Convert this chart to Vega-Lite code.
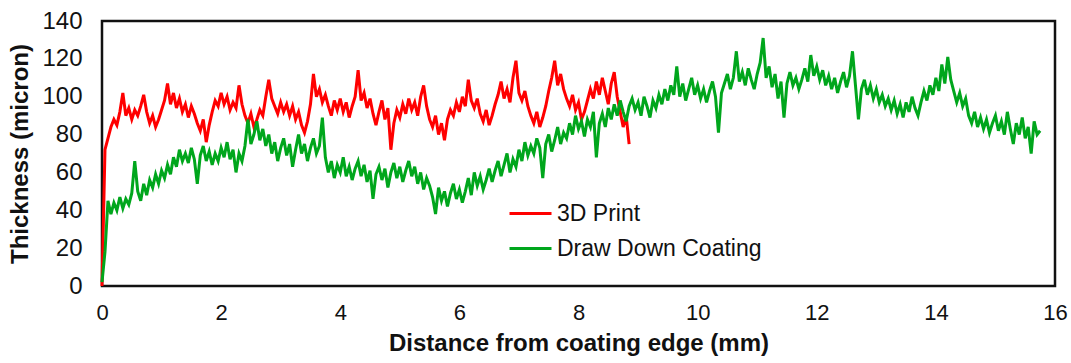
{
  "$schema": "https://vega.github.io/schema/vega-lite/v6.json",
  "width": 953,
  "height": 265,
  "autosize": {"type": "none"},
  "padding": {"left": 102, "top": 21, "right": 16, "bottom": 77},
  "background": "white",
  "config": {
    "view": {"stroke": "#111", "strokeWidth": 2.5},
    "font": "Liberation Sans"
  },
  "data": {"values": [
{"x":0,"y":0,"s":"3D Print"},{"x":0.05,"y":72,"s":"3D Print"},{"x":0.1,"y":78,"s":"3D Print"},{"x":0.15,"y":84,"s":"3D Print"},{"x":0.2,"y":88,"s":"3D Print"},{"x":0.25,"y":85,"s":"3D Print"},{"x":0.3,"y":92,"s":"3D Print"},{"x":0.35,"y":102,"s":"3D Print"},{"x":0.4,"y":90,"s":"3D Print"},{"x":0.45,"y":94,"s":"3D Print"},
{"x":0.5,"y":88,"s":"3D Print"},{"x":0.55,"y":93,"s":"3D Print"},{"x":0.6,"y":90,"s":"3D Print"},{"x":0.65,"y":95,"s":"3D Print"},{"x":0.7,"y":101,"s":"3D Print"},{"x":0.75,"y":92,"s":"3D Print"},{"x":0.8,"y":86,"s":"3D Print"},{"x":0.85,"y":90,"s":"3D Print"},{"x":0.9,"y":84,"s":"3D Print"},{"x":0.95,"y":88,"s":"3D Print"},
{"x":1,"y":93,"s":"3D Print"},{"x":1.05,"y":98,"s":"3D Print"},{"x":1.1,"y":107,"s":"3D Print"},{"x":1.15,"y":96,"s":"3D Print"},{"x":1.2,"y":102,"s":"3D Print"},{"x":1.25,"y":94,"s":"3D Print"},{"x":1.3,"y":99,"s":"3D Print"},{"x":1.35,"y":92,"s":"3D Print"},{"x":1.4,"y":96,"s":"3D Print"},{"x":1.45,"y":89,"s":"3D Print"},
{"x":1.5,"y":95,"s":"3D Print"},{"x":1.55,"y":91,"s":"3D Print"},{"x":1.6,"y":86,"s":"3D Print"},{"x":1.65,"y":82,"s":"3D Print"},{"x":1.7,"y":88,"s":"3D Print"},{"x":1.75,"y":76,"s":"3D Print"},{"x":1.8,"y":85,"s":"3D Print"},{"x":1.85,"y":92,"s":"3D Print"},{"x":1.9,"y":98,"s":"3D Print"},{"x":1.95,"y":95,"s":"3D Print"},
{"x":2,"y":102,"s":"3D Print"},{"x":2.05,"y":96,"s":"3D Print"},{"x":2.1,"y":100,"s":"3D Print"},{"x":2.15,"y":93,"s":"3D Print"},{"x":2.2,"y":97,"s":"3D Print"},{"x":2.25,"y":94,"s":"3D Print"},{"x":2.3,"y":106,"s":"3D Print"},{"x":2.35,"y":96,"s":"3D Print"},{"x":2.4,"y":90,"s":"3D Print"},{"x":2.45,"y":86,"s":"3D Print"},
{"x":2.5,"y":91,"s":"3D Print"},{"x":2.55,"y":84,"s":"3D Print"},{"x":2.6,"y":88,"s":"3D Print"},{"x":2.65,"y":93,"s":"3D Print"},{"x":2.7,"y":90,"s":"3D Print"},{"x":2.75,"y":100,"s":"3D Print"},{"x":2.8,"y":109,"s":"3D Print"},{"x":2.85,"y":99,"s":"3D Print"},{"x":2.9,"y":95,"s":"3D Print"},{"x":2.95,"y":91,"s":"3D Print"},
{"x":3,"y":97,"s":"3D Print"},{"x":3.05,"y":92,"s":"3D Print"},{"x":3.1,"y":96,"s":"3D Print"},{"x":3.15,"y":90,"s":"3D Print"},{"x":3.2,"y":95,"s":"3D Print"},{"x":3.25,"y":88,"s":"3D Print"},{"x":3.3,"y":92,"s":"3D Print"},{"x":3.35,"y":85,"s":"3D Print"},{"x":3.4,"y":81,"s":"3D Print"},{"x":3.45,"y":87,"s":"3D Print"},
{"x":3.5,"y":96,"s":"3D Print"},{"x":3.55,"y":112,"s":"3D Print"},{"x":3.6,"y":100,"s":"3D Print"},{"x":3.65,"y":104,"s":"3D Print"},{"x":3.7,"y":97,"s":"3D Print"},{"x":3.75,"y":101,"s":"3D Print"},{"x":3.8,"y":95,"s":"3D Print"},{"x":3.85,"y":90,"s":"3D Print"},{"x":3.9,"y":98,"s":"3D Print"},{"x":3.95,"y":93,"s":"3D Print"},
{"x":4,"y":99,"s":"3D Print"},{"x":4.05,"y":92,"s":"3D Print"},{"x":4.1,"y":97,"s":"3D Print"},{"x":4.15,"y":89,"s":"3D Print"},{"x":4.2,"y":95,"s":"3D Print"},{"x":4.25,"y":100,"s":"3D Print"},{"x":4.3,"y":114,"s":"3D Print"},{"x":4.35,"y":98,"s":"3D Print"},{"x":4.4,"y":102,"s":"3D Print"},{"x":4.45,"y":94,"s":"3D Print"},
{"x":4.5,"y":99,"s":"3D Print"},{"x":4.55,"y":91,"s":"3D Print"},{"x":4.6,"y":85,"s":"3D Print"},{"x":4.65,"y":92,"s":"3D Print"},{"x":4.7,"y":98,"s":"3D Print"},{"x":4.75,"y":88,"s":"3D Print"},{"x":4.8,"y":94,"s":"3D Print"},{"x":4.85,"y":72,"s":"3D Print"},{"x":4.9,"y":86,"s":"3D Print"},{"x":4.95,"y":93,"s":"3D Print"},
{"x":5,"y":89,"s":"3D Print"},{"x":5.05,"y":96,"s":"3D Print"},{"x":5.1,"y":91,"s":"3D Print"},{"x":5.15,"y":99,"s":"3D Print"},{"x":5.2,"y":93,"s":"3D Print"},{"x":5.25,"y":97,"s":"3D Print"},{"x":5.3,"y":90,"s":"3D Print"},{"x":5.35,"y":100,"s":"3D Print"},{"x":5.4,"y":106,"s":"3D Print"},{"x":5.45,"y":95,"s":"3D Print"},
{"x":5.5,"y":88,"s":"3D Print"},{"x":5.55,"y":84,"s":"3D Print"},{"x":5.6,"y":90,"s":"3D Print"},{"x":5.65,"y":80,"s":"3D Print"},{"x":5.7,"y":86,"s":"3D Print"},{"x":5.75,"y":77,"s":"3D Print"},{"x":5.8,"y":88,"s":"3D Print"},{"x":5.85,"y":93,"s":"3D Print"},{"x":5.9,"y":90,"s":"3D Print"},{"x":5.95,"y":97,"s":"3D Print"},
{"x":6,"y":92,"s":"3D Print"},{"x":6.05,"y":100,"s":"3D Print"},{"x":6.1,"y":95,"s":"3D Print"},{"x":6.15,"y":109,"s":"3D Print"},{"x":6.2,"y":98,"s":"3D Print"},{"x":6.25,"y":94,"s":"3D Print"},{"x":6.3,"y":99,"s":"3D Print"},{"x":6.35,"y":91,"s":"3D Print"},{"x":6.4,"y":87,"s":"3D Print"},{"x":6.45,"y":93,"s":"3D Print"},
{"x":6.5,"y":85,"s":"3D Print"},{"x":6.55,"y":90,"s":"3D Print"},{"x":6.6,"y":96,"s":"3D Print"},{"x":6.65,"y":101,"s":"3D Print"},{"x":6.7,"y":108,"s":"3D Print"},{"x":6.75,"y":99,"s":"3D Print"},{"x":6.8,"y":104,"s":"3D Print"},{"x":6.85,"y":97,"s":"3D Print"},{"x":6.9,"y":110,"s":"3D Print"},{"x":6.95,"y":119,"s":"3D Print"},
{"x":7,"y":102,"s":"3D Print"},{"x":7.05,"y":98,"s":"3D Print"},{"x":7.1,"y":103,"s":"3D Print"},{"x":7.15,"y":95,"s":"3D Print"},{"x":7.2,"y":90,"s":"3D Print"},{"x":7.25,"y":86,"s":"3D Print"},{"x":7.3,"y":92,"s":"3D Print"},{"x":7.35,"y":84,"s":"3D Print"},{"x":7.4,"y":89,"s":"3D Print"},{"x":7.45,"y":95,"s":"3D Print"},
{"x":7.5,"y":103,"s":"3D Print"},{"x":7.55,"y":110,"s":"3D Print"},{"x":7.6,"y":119,"s":"3D Print"},{"x":7.65,"y":106,"s":"3D Print"},{"x":7.7,"y":112,"s":"3D Print"},{"x":7.75,"y":104,"s":"3D Print"},{"x":7.8,"y":99,"s":"3D Print"},{"x":7.85,"y":95,"s":"3D Print"},{"x":7.9,"y":101,"s":"3D Print"},{"x":7.95,"y":93,"s":"3D Print"},
{"x":8,"y":97,"s":"3D Print"},{"x":8.05,"y":88,"s":"3D Print"},{"x":8.1,"y":92,"s":"3D Print"},{"x":8.15,"y":98,"s":"3D Print"},{"x":8.2,"y":104,"s":"3D Print"},{"x":8.25,"y":99,"s":"3D Print"},{"x":8.3,"y":108,"s":"3D Print"},{"x":8.35,"y":101,"s":"3D Print"},{"x":8.4,"y":110,"s":"3D Print"},{"x":8.45,"y":103,"s":"3D Print"},
{"x":8.5,"y":96,"s":"3D Print"},{"x":8.55,"y":107,"s":"3D Print"},{"x":8.6,"y":113,"s":"3D Print"},{"x":8.65,"y":100,"s":"3D Print"},{"x":8.7,"y":92,"s":"3D Print"},{"x":8.75,"y":84,"s":"3D Print"},{"x":8.8,"y":90,"s":"3D Print"},{"x":8.85,"y":75,"s":"3D Print"},
{"x":0,"y":2,"s":"Draw Down Coating"},{"x":0.05,"y":18,"s":"Draw Down Coating"},{"x":0.1,"y":45,"s":"Draw Down Coating"},{"x":0.15,"y":38,"s":"Draw Down Coating"},{"x":0.2,"y":44,"s":"Draw Down Coating"},{"x":0.25,"y":40,"s":"Draw Down Coating"},{"x":0.3,"y":47,"s":"Draw Down Coating"},{"x":0.35,"y":41,"s":"Draw Down Coating"},{"x":0.4,"y":46,"s":"Draw Down Coating"},{"x":0.45,"y":43,"s":"Draw Down Coating"},
{"x":0.5,"y":49,"s":"Draw Down Coating"},{"x":0.55,"y":66,"s":"Draw Down Coating"},{"x":0.6,"y":50,"s":"Draw Down Coating"},{"x":0.65,"y":45,"s":"Draw Down Coating"},{"x":0.7,"y":54,"s":"Draw Down Coating"},{"x":0.75,"y":48,"s":"Draw Down Coating"},{"x":0.8,"y":56,"s":"Draw Down Coating"},{"x":0.85,"y":52,"s":"Draw Down Coating"},{"x":0.9,"y":59,"s":"Draw Down Coating"},{"x":0.95,"y":54,"s":"Draw Down Coating"},
{"x":1,"y":61,"s":"Draw Down Coating"},{"x":1.05,"y":57,"s":"Draw Down Coating"},{"x":1.1,"y":64,"s":"Draw Down Coating"},{"x":1.15,"y":59,"s":"Draw Down Coating"},{"x":1.2,"y":68,"s":"Draw Down Coating"},{"x":1.25,"y":63,"s":"Draw Down Coating"},{"x":1.3,"y":72,"s":"Draw Down Coating"},{"x":1.35,"y":66,"s":"Draw Down Coating"},{"x":1.4,"y":70,"s":"Draw Down Coating"},{"x":1.45,"y":65,"s":"Draw Down Coating"},
{"x":1.5,"y":73,"s":"Draw Down Coating"},{"x":1.55,"y":67,"s":"Draw Down Coating"},{"x":1.6,"y":54,"s":"Draw Down Coating"},{"x":1.65,"y":69,"s":"Draw Down Coating"},{"x":1.7,"y":74,"s":"Draw Down Coating"},{"x":1.75,"y":66,"s":"Draw Down Coating"},{"x":1.8,"y":71,"s":"Draw Down Coating"},{"x":1.85,"y":64,"s":"Draw Down Coating"},{"x":1.9,"y":70,"s":"Draw Down Coating"},{"x":1.95,"y":66,"s":"Draw Down Coating"},
{"x":2,"y":73,"s":"Draw Down Coating"},{"x":2.05,"y":68,"s":"Draw Down Coating"},{"x":2.1,"y":76,"s":"Draw Down Coating"},{"x":2.15,"y":67,"s":"Draw Down Coating"},{"x":2.2,"y":72,"s":"Draw Down Coating"},{"x":2.25,"y":60,"s":"Draw Down Coating"},{"x":2.3,"y":70,"s":"Draw Down Coating"},{"x":2.35,"y":66,"s":"Draw Down Coating"},{"x":2.4,"y":74,"s":"Draw Down Coating"},{"x":2.45,"y":88,"s":"Draw Down Coating"},
{"x":2.5,"y":75,"s":"Draw Down Coating"},{"x":2.55,"y":80,"s":"Draw Down Coating"},{"x":2.6,"y":87,"s":"Draw Down Coating"},{"x":2.65,"y":77,"s":"Draw Down Coating"},{"x":2.7,"y":83,"s":"Draw Down Coating"},{"x":2.75,"y":74,"s":"Draw Down Coating"},{"x":2.8,"y":80,"s":"Draw Down Coating"},{"x":2.85,"y":70,"s":"Draw Down Coating"},{"x":2.9,"y":76,"s":"Draw Down Coating"},{"x":2.95,"y":66,"s":"Draw Down Coating"},
{"x":3,"y":73,"s":"Draw Down Coating"},{"x":3.05,"y":78,"s":"Draw Down Coating"},{"x":3.1,"y":69,"s":"Draw Down Coating"},{"x":3.15,"y":75,"s":"Draw Down Coating"},{"x":3.2,"y":63,"s":"Draw Down Coating"},{"x":3.25,"y":72,"s":"Draw Down Coating"},{"x":3.3,"y":80,"s":"Draw Down Coating"},{"x":3.35,"y":70,"s":"Draw Down Coating"},{"x":3.4,"y":75,"s":"Draw Down Coating"},{"x":3.45,"y":66,"s":"Draw Down Coating"},
{"x":3.5,"y":73,"s":"Draw Down Coating"},{"x":3.55,"y":78,"s":"Draw Down Coating"},{"x":3.6,"y":70,"s":"Draw Down Coating"},{"x":3.65,"y":74,"s":"Draw Down Coating"},{"x":3.7,"y":89,"s":"Draw Down Coating"},{"x":3.75,"y":68,"s":"Draw Down Coating"},{"x":3.8,"y":60,"s":"Draw Down Coating"},{"x":3.85,"y":66,"s":"Draw Down Coating"},{"x":3.9,"y":57,"s":"Draw Down Coating"},{"x":3.95,"y":64,"s":"Draw Down Coating"},
{"x":4,"y":60,"s":"Draw Down Coating"},{"x":4.05,"y":68,"s":"Draw Down Coating"},{"x":4.1,"y":58,"s":"Draw Down Coating"},{"x":4.15,"y":63,"s":"Draw Down Coating"},{"x":4.2,"y":56,"s":"Draw Down Coating"},{"x":4.25,"y":62,"s":"Draw Down Coating"},{"x":4.3,"y":66,"s":"Draw Down Coating"},{"x":4.35,"y":58,"s":"Draw Down Coating"},{"x":4.4,"y":64,"s":"Draw Down Coating"},{"x":4.45,"y":55,"s":"Draw Down Coating"},
{"x":4.5,"y":61,"s":"Draw Down Coating"},{"x":4.55,"y":46,"s":"Draw Down Coating"},{"x":4.6,"y":59,"s":"Draw Down Coating"},{"x":4.65,"y":63,"s":"Draw Down Coating"},{"x":4.7,"y":56,"s":"Draw Down Coating"},{"x":4.75,"y":62,"s":"Draw Down Coating"},{"x":4.8,"y":52,"s":"Draw Down Coating"},{"x":4.85,"y":60,"s":"Draw Down Coating"},{"x":4.9,"y":65,"s":"Draw Down Coating"},{"x":4.95,"y":57,"s":"Draw Down Coating"},
{"x":5,"y":63,"s":"Draw Down Coating"},{"x":5.05,"y":55,"s":"Draw Down Coating"},{"x":5.1,"y":61,"s":"Draw Down Coating"},{"x":5.15,"y":66,"s":"Draw Down Coating"},{"x":5.2,"y":58,"s":"Draw Down Coating"},{"x":5.25,"y":63,"s":"Draw Down Coating"},{"x":5.3,"y":54,"s":"Draw Down Coating"},{"x":5.35,"y":60,"s":"Draw Down Coating"},{"x":5.4,"y":51,"s":"Draw Down Coating"},{"x":5.45,"y":57,"s":"Draw Down Coating"},
{"x":5.5,"y":53,"s":"Draw Down Coating"},{"x":5.55,"y":47,"s":"Draw Down Coating"},{"x":5.6,"y":38,"s":"Draw Down Coating"},{"x":5.65,"y":52,"s":"Draw Down Coating"},{"x":5.7,"y":45,"s":"Draw Down Coating"},{"x":5.75,"y":50,"s":"Draw Down Coating"},{"x":5.8,"y":42,"s":"Draw Down Coating"},{"x":5.85,"y":49,"s":"Draw Down Coating"},{"x":5.9,"y":54,"s":"Draw Down Coating"},{"x":5.95,"y":46,"s":"Draw Down Coating"},
{"x":6,"y":51,"s":"Draw Down Coating"},{"x":6.05,"y":44,"s":"Draw Down Coating"},{"x":6.1,"y":50,"s":"Draw Down Coating"},{"x":6.15,"y":57,"s":"Draw Down Coating"},{"x":6.2,"y":48,"s":"Draw Down Coating"},{"x":6.25,"y":60,"s":"Draw Down Coating"},{"x":6.3,"y":53,"s":"Draw Down Coating"},{"x":6.35,"y":58,"s":"Draw Down Coating"},{"x":6.4,"y":51,"s":"Draw Down Coating"},{"x":6.45,"y":56,"s":"Draw Down Coating"},
{"x":6.5,"y":62,"s":"Draw Down Coating"},{"x":6.55,"y":55,"s":"Draw Down Coating"},{"x":6.6,"y":61,"s":"Draw Down Coating"},{"x":6.65,"y":66,"s":"Draw Down Coating"},{"x":6.7,"y":58,"s":"Draw Down Coating"},{"x":6.75,"y":64,"s":"Draw Down Coating"},{"x":6.8,"y":70,"s":"Draw Down Coating"},{"x":6.85,"y":60,"s":"Draw Down Coating"},{"x":6.9,"y":67,"s":"Draw Down Coating"},{"x":6.95,"y":63,"s":"Draw Down Coating"},
{"x":7,"y":72,"s":"Draw Down Coating"},{"x":7.05,"y":66,"s":"Draw Down Coating"},{"x":7.1,"y":76,"s":"Draw Down Coating"},{"x":7.15,"y":69,"s":"Draw Down Coating"},{"x":7.2,"y":74,"s":"Draw Down Coating"},{"x":7.25,"y":70,"s":"Draw Down Coating"},{"x":7.3,"y":78,"s":"Draw Down Coating"},{"x":7.35,"y":73,"s":"Draw Down Coating"},{"x":7.4,"y":57,"s":"Draw Down Coating"},{"x":7.45,"y":75,"s":"Draw Down Coating"},
{"x":7.5,"y":80,"s":"Draw Down Coating"},{"x":7.55,"y":71,"s":"Draw Down Coating"},{"x":7.6,"y":77,"s":"Draw Down Coating"},{"x":7.65,"y":84,"s":"Draw Down Coating"},{"x":7.7,"y":75,"s":"Draw Down Coating"},{"x":7.75,"y":81,"s":"Draw Down Coating"},{"x":7.8,"y":78,"s":"Draw Down Coating"},{"x":7.85,"y":86,"s":"Draw Down Coating"},{"x":7.9,"y":80,"s":"Draw Down Coating"},{"x":7.95,"y":90,"s":"Draw Down Coating"},
{"x":8,"y":83,"s":"Draw Down Coating"},{"x":8.05,"y":87,"s":"Draw Down Coating"},{"x":8.1,"y":79,"s":"Draw Down Coating"},{"x":8.15,"y":88,"s":"Draw Down Coating"},{"x":8.2,"y":84,"s":"Draw Down Coating"},{"x":8.25,"y":92,"s":"Draw Down Coating"},{"x":8.3,"y":68,"s":"Draw Down Coating"},{"x":8.35,"y":86,"s":"Draw Down Coating"},{"x":8.4,"y":91,"s":"Draw Down Coating"},{"x":8.45,"y":84,"s":"Draw Down Coating"},
{"x":8.5,"y":94,"s":"Draw Down Coating"},{"x":8.55,"y":88,"s":"Draw Down Coating"},{"x":8.6,"y":96,"s":"Draw Down Coating"},{"x":8.65,"y":90,"s":"Draw Down Coating"},{"x":8.7,"y":98,"s":"Draw Down Coating"},{"x":8.75,"y":92,"s":"Draw Down Coating"},{"x":8.8,"y":87,"s":"Draw Down Coating"},{"x":8.85,"y":95,"s":"Draw Down Coating"},{"x":8.9,"y":99,"s":"Draw Down Coating"},{"x":8.95,"y":93,"s":"Draw Down Coating"},
{"x":9,"y":97,"s":"Draw Down Coating"},{"x":9.05,"y":90,"s":"Draw Down Coating"},{"x":9.1,"y":100,"s":"Draw Down Coating"},{"x":9.15,"y":95,"s":"Draw Down Coating"},{"x":9.2,"y":89,"s":"Draw Down Coating"},{"x":9.25,"y":98,"s":"Draw Down Coating"},{"x":9.3,"y":94,"s":"Draw Down Coating"},{"x":9.35,"y":101,"s":"Draw Down Coating"},{"x":9.4,"y":96,"s":"Draw Down Coating"},{"x":9.45,"y":104,"s":"Draw Down Coating"},
{"x":9.5,"y":98,"s":"Draw Down Coating"},{"x":9.55,"y":106,"s":"Draw Down Coating"},{"x":9.6,"y":101,"s":"Draw Down Coating"},{"x":9.65,"y":116,"s":"Draw Down Coating"},{"x":9.7,"y":100,"s":"Draw Down Coating"},{"x":9.75,"y":107,"s":"Draw Down Coating"},{"x":9.8,"y":98,"s":"Draw Down Coating"},{"x":9.85,"y":104,"s":"Draw Down Coating"},{"x":9.9,"y":110,"s":"Draw Down Coating"},{"x":9.95,"y":101,"s":"Draw Down Coating"},
{"x":10,"y":106,"s":"Draw Down Coating"},{"x":10.05,"y":99,"s":"Draw Down Coating"},{"x":10.1,"y":104,"s":"Draw Down Coating"},{"x":10.15,"y":97,"s":"Draw Down Coating"},{"x":10.2,"y":103,"s":"Draw Down Coating"},{"x":10.25,"y":108,"s":"Draw Down Coating"},{"x":10.3,"y":100,"s":"Draw Down Coating"},{"x":10.35,"y":81,"s":"Draw Down Coating"},{"x":10.4,"y":102,"s":"Draw Down Coating"},{"x":10.45,"y":107,"s":"Draw Down Coating"},
{"x":10.5,"y":112,"s":"Draw Down Coating"},{"x":10.55,"y":104,"s":"Draw Down Coating"},{"x":10.6,"y":110,"s":"Draw Down Coating"},{"x":10.65,"y":124,"s":"Draw Down Coating"},{"x":10.7,"y":108,"s":"Draw Down Coating"},{"x":10.75,"y":113,"s":"Draw Down Coating"},{"x":10.8,"y":106,"s":"Draw Down Coating"},{"x":10.85,"y":115,"s":"Draw Down Coating"},{"x":10.9,"y":109,"s":"Draw Down Coating"},{"x":10.95,"y":104,"s":"Draw Down Coating"},
{"x":11,"y":112,"s":"Draw Down Coating"},{"x":11.05,"y":118,"s":"Draw Down Coating"},{"x":11.1,"y":131,"s":"Draw Down Coating"},{"x":11.15,"y":110,"s":"Draw Down Coating"},{"x":11.2,"y":116,"s":"Draw Down Coating"},{"x":11.25,"y":105,"s":"Draw Down Coating"},{"x":11.3,"y":112,"s":"Draw Down Coating"},{"x":11.35,"y":99,"s":"Draw Down Coating"},{"x":11.4,"y":108,"s":"Draw Down Coating"},{"x":11.45,"y":89,"s":"Draw Down Coating"},
{"x":11.5,"y":107,"s":"Draw Down Coating"},{"x":11.55,"y":113,"s":"Draw Down Coating"},{"x":11.6,"y":106,"s":"Draw Down Coating"},{"x":11.65,"y":110,"s":"Draw Down Coating"},{"x":11.7,"y":104,"s":"Draw Down Coating"},{"x":11.75,"y":109,"s":"Draw Down Coating"},{"x":11.8,"y":115,"s":"Draw Down Coating"},{"x":11.85,"y":108,"s":"Draw Down Coating"},{"x":11.9,"y":122,"s":"Draw Down Coating"},{"x":11.95,"y":111,"s":"Draw Down Coating"},
{"x":12,"y":116,"s":"Draw Down Coating"},{"x":12.05,"y":109,"s":"Draw Down Coating"},{"x":12.1,"y":114,"s":"Draw Down Coating"},{"x":12.15,"y":106,"s":"Draw Down Coating"},{"x":12.2,"y":111,"s":"Draw Down Coating"},{"x":12.25,"y":104,"s":"Draw Down Coating"},{"x":12.3,"y":110,"s":"Draw Down Coating"},{"x":12.35,"y":102,"s":"Draw Down Coating"},{"x":12.4,"y":108,"s":"Draw Down Coating"},{"x":12.45,"y":113,"s":"Draw Down Coating"},
{"x":12.5,"y":105,"s":"Draw Down Coating"},{"x":12.55,"y":111,"s":"Draw Down Coating"},{"x":12.6,"y":124,"s":"Draw Down Coating"},{"x":12.65,"y":106,"s":"Draw Down Coating"},{"x":12.7,"y":88,"s":"Draw Down Coating"},{"x":12.75,"y":104,"s":"Draw Down Coating"},{"x":12.8,"y":109,"s":"Draw Down Coating"},{"x":12.85,"y":101,"s":"Draw Down Coating"},{"x":12.9,"y":106,"s":"Draw Down Coating"},{"x":12.95,"y":99,"s":"Draw Down Coating"},
{"x":13,"y":104,"s":"Draw Down Coating"},{"x":13.05,"y":97,"s":"Draw Down Coating"},{"x":13.1,"y":101,"s":"Draw Down Coating"},{"x":13.15,"y":95,"s":"Draw Down Coating"},{"x":13.2,"y":99,"s":"Draw Down Coating"},{"x":13.25,"y":93,"s":"Draw Down Coating"},{"x":13.3,"y":98,"s":"Draw Down Coating"},{"x":13.35,"y":91,"s":"Draw Down Coating"},{"x":13.4,"y":96,"s":"Draw Down Coating"},{"x":13.45,"y":89,"s":"Draw Down Coating"},
{"x":13.5,"y":97,"s":"Draw Down Coating"},{"x":13.55,"y":92,"s":"Draw Down Coating"},{"x":13.6,"y":100,"s":"Draw Down Coating"},{"x":13.65,"y":94,"s":"Draw Down Coating"},{"x":13.7,"y":90,"s":"Draw Down Coating"},{"x":13.75,"y":97,"s":"Draw Down Coating"},{"x":13.8,"y":103,"s":"Draw Down Coating"},{"x":13.85,"y":98,"s":"Draw Down Coating"},{"x":13.9,"y":106,"s":"Draw Down Coating"},{"x":13.95,"y":101,"s":"Draw Down Coating"},
{"x":14,"y":110,"s":"Draw Down Coating"},{"x":14.05,"y":103,"s":"Draw Down Coating"},{"x":14.1,"y":117,"s":"Draw Down Coating"},{"x":14.15,"y":107,"s":"Draw Down Coating"},{"x":14.2,"y":121,"s":"Draw Down Coating"},{"x":14.25,"y":109,"s":"Draw Down Coating"},{"x":14.3,"y":103,"s":"Draw Down Coating"},{"x":14.35,"y":97,"s":"Draw Down Coating"},{"x":14.4,"y":102,"s":"Draw Down Coating"},{"x":14.45,"y":95,"s":"Draw Down Coating"},
{"x":14.5,"y":99,"s":"Draw Down Coating"},{"x":14.55,"y":90,"s":"Draw Down Coating"},{"x":14.6,"y":86,"s":"Draw Down Coating"},{"x":14.65,"y":92,"s":"Draw Down Coating"},{"x":14.7,"y":84,"s":"Draw Down Coating"},{"x":14.75,"y":89,"s":"Draw Down Coating"},{"x":14.8,"y":83,"s":"Draw Down Coating"},{"x":14.85,"y":88,"s":"Draw Down Coating"},{"x":14.9,"y":81,"s":"Draw Down Coating"},{"x":14.95,"y":86,"s":"Draw Down Coating"},
{"x":15,"y":90,"s":"Draw Down Coating"},{"x":15.05,"y":82,"s":"Draw Down Coating"},{"x":15.1,"y":87,"s":"Draw Down Coating"},{"x":15.15,"y":80,"s":"Draw Down Coating"},{"x":15.2,"y":92,"s":"Draw Down Coating"},{"x":15.25,"y":83,"s":"Draw Down Coating"},{"x":15.3,"y":75,"s":"Draw Down Coating"},{"x":15.35,"y":86,"s":"Draw Down Coating"},{"x":15.4,"y":80,"s":"Draw Down Coating"},{"x":15.45,"y":89,"s":"Draw Down Coating"},
{"x":15.5,"y":78,"s":"Draw Down Coating"},{"x":15.55,"y":84,"s":"Draw Down Coating"},{"x":15.6,"y":70,"s":"Draw Down Coating"},{"x":15.65,"y":87,"s":"Draw Down Coating"},{"x":15.7,"y":80,"s":"Draw Down Coating"},{"x":15.75,"y":82,"s":"Draw Down Coating"}
  ]},
  "mark": {"type": "line", "strokeWidth": 3, "strokeJoin": "miter"},
  "encoding": {
    "x": {
      "field": "x", "type": "quantitative",
      "scale": {"domain": [0, 16], "nice": false, "zero": false},
      "axis": {
        "title": "Distance from coating edge (mm)",
        "values": [0, 2, 4, 6, 8, 10, 12, 14, 16],
        "grid": false, "domain": false, "ticks": false, "tickSize": 0,
        "labelFont": "Liberation Sans", "labelFontSize": 22, "labelColor": "#111",
        "labelPadding": 16, "labelFlush": false,
        "titleFont": "Liberation Sans", "titleFontSize": 24, "titleFontWeight": "bold",
        "titleColor": "#111", "titlePadding": 8
      }
    },
    "y": {
      "field": "y", "type": "quantitative",
      "scale": {"domain": [0, 140], "nice": false},
      "axis": {
        "title": "Thickness (micron)",
        "values": [0, 20, 40, 60, 80, 100, 120, 140],
        "grid": false, "domain": false, "ticks": false, "tickSize": 0,
        "labelFont": "Liberation Sans", "labelFontSize": 24, "labelColor": "#111",
        "labelPadding": 20, "labelFlush": false,
        "titleFont": "Liberation Sans", "titleFontSize": 24, "titleFontWeight": "bold",
        "titleColor": "#111", "titlePadding": 9
      }
    },
    "color": {
      "field": "s", "type": "nominal",
      "scale": {"domain": ["3D Print", "Draw Down Coating"], "range": ["#ff0000", "#00a61c"]},
      "legend": {
        "title": null, "orient": "none", "legendX": 406, "legendY": 170,
        "symbolType": "stroke", "symbolSize": 1764, "symbolStrokeWidth": 3,
        "labelFont": "Liberation Sans", "labelFontSize": 23, "labelColor": "#111",
        "labelOffset": 4, "labelLimit": 0, "rowPadding": -12, "padding": 0
      }
    }
  }
}
